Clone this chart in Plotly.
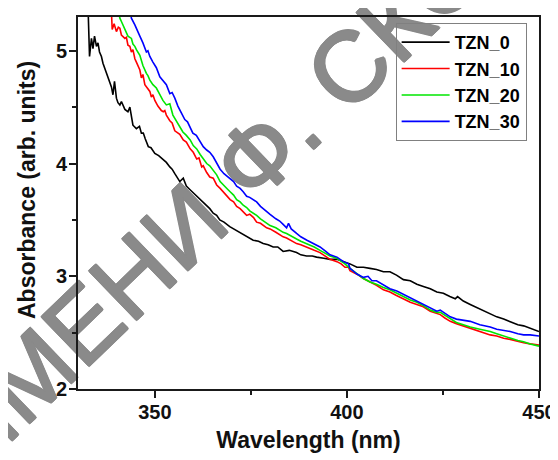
import plotly.graph_objects as go

# ---------------- data ----------------
tzn0_x = [330.0, 331.0, 332.0, 332.6, 333.0, 333.5, 333.9, 334.3, 334.8, 335.2, 335.6, 336.1, 336.5, 336.9,
          337.4, 337.8, 338.2, 338.7, 339.1, 339.5, 340.0, 340.4, 340.9, 341.3, 342.2, 343.0, 343.5, 343.9,
          344.3, 345.2, 346.0, 346.5, 347.0, 347.5, 348.3, 349.0, 350.0, 351.0, 352.2, 353.0, 353.9, 354.5,
          355.2, 356.5, 357.4, 358.2, 359.1, 360.0, 360.9, 362.0, 363.5, 364.3, 365.2, 366.1, 366.9, 368.0,
          369.5, 370.5, 372.1, 373.0, 373.9, 375.6, 377.0, 378.2, 379.5, 380.8, 382.0, 383.4, 385.0, 386.9,
          388.0, 389.5, 391.0, 392.1, 394.0, 395.6, 397.4, 399.1, 400.8, 402.6, 404.3, 406.0, 407.7, 409.5,
          411.2, 412.9, 414.7, 416.5, 418.2, 419.9, 421.7, 423.4, 425.1, 426.8, 428.2, 428.8, 430.3, 432.1,
          434.6, 437.3, 439.0, 440.8, 442.5, 444.5, 446.0, 447.7, 450.0]
tzn0_y = [5.40, 5.42, 5.38, 5.40, 4.95, 5.11, 5.02, 5.13, 5.04, 5.07, 4.99, 4.95, 4.89, 4.85,
          4.80, 4.77, 4.74, 4.68, 4.61, 4.73, 4.58, 4.54, 4.52, 4.55, 4.48, 4.46, 4.50, 4.40,
          4.34, 4.31, 4.33, 4.27, 4.27, 4.22, 4.15, 4.14, 4.09, 4.07, 4.03, 4.01, 3.97, 3.95,
          3.91, 3.84, 3.87, 3.80, 3.77, 3.74, 3.71, 3.67, 3.62, 3.60, 3.56, 3.54, 3.50, 3.48,
          3.44, 3.42, 3.39, 3.37, 3.35, 3.32, 3.31, 3.29, 3.28, 3.26, 3.26, 3.22, 3.23, 3.21,
          3.19, 3.18, 3.18, 3.17, 3.16, 3.15, 3.15, 3.13, 3.11, 3.08, 3.08, 3.07, 3.06, 3.04,
          3.04, 3.01, 2.97, 2.96, 2.93, 2.91, 2.89, 2.86, 2.85, 2.82, 2.80, 2.82, 2.78, 2.75,
          2.71, 2.67, 2.64, 2.62, 2.60, 2.57, 2.56, 2.54, 2.51]

tzn10_x = [338.7, 338.9, 339.4, 340.0, 340.5, 340.9, 341.3, 342.2, 342.6, 343.0, 343.5, 343.9, 344.3, 344.8,
           345.2, 346.1, 346.5, 346.9, 347.4, 348.2, 348.7, 349.1, 349.5, 350.0, 350.8, 351.7, 352.2, 352.6,
           353.0, 353.9, 354.5, 355.2, 355.7, 356.5, 357.4, 358.2, 359.2, 360.0, 360.9, 361.5, 362.2, 362.6,
           363.5, 364.3, 365.2, 366.1, 367.0, 368.0, 369.0, 369.6, 370.5, 371.3, 372.2, 373.0, 373.9, 374.7,
           375.7, 376.5, 377.5, 379.1, 380.0, 381.5, 383.4, 384.3, 385.5, 386.9, 388.0, 389.6, 390.4, 391.5,
           393.0, 393.8, 395.6, 397.4, 398.5, 399.5, 400.4, 400.8, 402.0, 403.0, 404.3, 406.0, 407.7, 409.5,
           411.2, 412.9, 414.7, 416.5, 418.2, 419.9, 421.7, 423.4, 424.3, 425.5, 426.9, 428.5, 430.3, 432.1,
           434.6, 437.3, 439.0, 440.8, 442.5, 444.5, 446.0, 447.7, 450.0]
tzn10_y = [5.35, 5.19, 5.24, 5.17, 5.21, 5.20, 5.14, 5.11, 5.12, 5.05, 5.04, 4.99, 5.01, 4.93,
           4.90, 4.83, 4.76, 4.79, 4.70, 4.66, 4.64, 4.59, 4.61, 4.56, 4.51, 4.47, 4.46, 4.47,
           4.43, 4.38, 4.36, 4.29, 4.28, 4.26, 4.21, 4.19, 4.13, 4.10, 4.04, 4.05, 3.97, 3.98,
           3.92, 3.88, 3.87, 3.81, 3.78, 3.74, 3.71, 3.68, 3.66, 3.62, 3.60, 3.57, 3.54, 3.55,
           3.52, 3.48, 3.47, 3.43, 3.42, 3.39, 3.35, 3.34, 3.32, 3.29, 3.28, 3.26, 3.25, 3.23,
           3.21, 3.19, 3.15, 3.13, 3.11, 3.08, 3.08, 3.05, 3.03, 3.01, 2.98, 2.95, 2.92, 2.88,
           2.86, 2.83, 2.80, 2.77, 2.75, 2.73, 2.69, 2.67, 2.66, 2.63, 2.60, 2.58, 2.56, 2.54,
           2.51, 2.48, 2.47, 2.45, 2.44, 2.42, 2.41, 2.40, 2.39]

tzn20_x = [340.5, 340.9, 341.3, 342.2, 343.0, 343.9, 344.3, 344.8, 345.2, 346.1, 346.9, 347.8, 348.2, 348.7,
           349.5, 350.4, 351.3, 352.1, 353.0, 353.9, 354.7, 355.6, 356.5, 357.3, 358.2, 359.2, 360.0, 360.9,
           361.8, 362.6, 363.5, 364.3, 365.2, 366.1, 367.0, 368.0, 369.0, 369.6, 370.5, 371.3, 372.2, 373.0,
           373.9, 374.7, 375.7, 376.5, 377.5, 379.1, 380.0, 381.5, 383.4, 384.3, 385.5, 386.9, 388.0, 389.6,
           391.5, 393.0, 394.5, 395.6, 397.4, 399.1, 400.8, 402.6, 404.3, 406.0, 407.7, 409.5, 411.2, 413.0,
           414.7, 416.5, 418.2, 419.9, 421.7, 423.4, 424.3, 426.9, 428.5, 430.3, 432.1, 434.6, 437.3, 439.0,
           440.8, 442.5, 444.5, 446.0, 447.7, 450.0]
tzn20_y = [5.35, 5.29, 5.26, 5.19, 5.13, 5.11, 5.06, 5.04, 5.01, 4.96, 4.87, 4.80, 4.78, 4.74,
           4.70, 4.67, 4.61, 4.56, 4.52, 4.53, 4.43, 4.38, 4.33, 4.28, 4.25, 4.21, 4.16, 4.13,
           4.08, 4.04, 4.00, 3.98, 3.94, 3.90, 3.84, 3.80, 3.77, 3.75, 3.72, 3.68, 3.66, 3.63,
           3.61, 3.58, 3.56, 3.54, 3.51, 3.47, 3.45, 3.43, 3.39, 3.38, 3.36, 3.33, 3.31, 3.29,
           3.26, 3.23, 3.20, 3.18, 3.16, 3.12, 3.07, 3.02, 2.98, 2.95, 2.93, 2.90, 2.88, 2.85,
           2.82, 2.79, 2.77, 2.74, 2.70, 2.68, 2.68, 2.62, 2.59, 2.57, 2.55, 2.53, 2.51, 2.49,
           2.47, 2.45, 2.43, 2.42, 2.40, 2.38]

tzn30_x = [343.6, 343.9, 344.8, 345.6, 346.1, 346.9, 347.8, 348.2, 348.7, 349.5, 350.4, 351.3, 352.1, 353.0,
           353.9, 354.5, 355.2, 356.0, 356.9, 357.8, 358.5, 359.1, 359.9, 360.8, 361.7, 362.6, 363.5, 364.3,
           365.2, 366.1, 367.0, 368.0, 369.0, 369.6, 370.5, 371.3, 372.2, 373.0, 373.9, 374.7, 375.7, 376.5,
           377.5, 379.1, 380.0, 381.5, 382.5, 383.4, 384.3, 384.8, 385.5, 386.9, 388.0, 389.6, 391.5, 393.0,
           394.5, 395.6, 397.4, 399.1, 400.4, 400.8, 402.6, 404.3, 405.5, 406.5, 407.7, 409.5, 411.2, 413.0,
           414.7, 416.5, 418.2, 419.9, 421.7, 423.4, 424.3, 426.9, 428.5, 430.3, 432.1, 434.6, 437.3, 439.0,
           440.8, 442.5, 444.5, 446.0, 447.7, 450.0]
tzn30_y = [5.35, 5.29, 5.23, 5.16, 5.13, 5.07, 4.99, 5.00, 4.95, 4.90, 4.85, 4.77, 4.74, 4.70,
           4.62, 4.63, 4.58, 4.51, 4.45, 4.39, 4.37, 4.33, 4.27, 4.25, 4.20, 4.15, 4.12, 4.10,
           4.06, 4.01, 3.95, 3.91, 3.88, 3.86, 3.84, 3.80, 3.78, 3.75, 3.71, 3.70, 3.68, 3.66,
           3.62, 3.57, 3.55, 3.51, 3.49, 3.46, 3.43, 3.47, 3.42, 3.38, 3.35, 3.32, 3.29, 3.26,
           3.22, 3.19, 3.17, 3.13, 3.11, 3.07, 3.02, 2.99, 3.00, 2.96, 2.96, 2.92, 2.89, 2.87,
           2.84, 2.81, 2.78, 2.75, 2.72, 2.69, 2.70, 2.64, 2.62, 2.61, 2.60, 2.57, 2.55, 2.53,
           2.52, 2.51, 2.49, 2.48, 2.48, 2.47]

series_names = ["TZN_0", "TZN_10", "TZN_20", "TZN_30"]
series_x = [tzn0_x, tzn10_x, tzn20_x, tzn30_x]
series_y = [tzn0_y, tzn10_y, tzn20_y, tzn30_y]
series_colors = ["#000000", "#ff0000", "#00e600", "#0000ff"]

x_ticks = [350, 400, 450]
y_ticks = [2, 3, 4, 5]
x_title = "Wavelength (nm)"
y_title = "Absorbance (arb. units)"
watermark = "ИМЕНИ Ф. СКОРИНЫ"

FONT = "Arial, 'Liberation Sans', sans-serif"
WM_COLOR = "rgb(138,138,138)"

fig = go.Figure()
for name, xs, ys, col in zip(series_names, series_x, series_y, series_colors):
    fig.add_trace(go.Scatter(x=xs, y=ys, mode="lines", name="<b>" + name + "</b>",
                             line=dict(color=col, width=1.6)))

axis_common = dict(showgrid=False, zeroline=False, showline=True, linecolor="#1a1a1a", linewidth=2,
                   mirror=True, ticks="outside", ticklen=7, tickwidth=1.5, tickcolor="#1a1a1a",
                   automargin=False,
                   tickfont=dict(family=FONT, size=20, color="#111111", weight="bold"))

fig.update_xaxes(range=[330, 450], tickvals=x_ticks, ticktext=[str(v) for v in x_ticks],
                 minor=dict(tickvals=[375, 425], ticklen=4, tickwidth=1.5, tickcolor="#1a1a1a", ticks="outside"),
                 ticklabelstandoff=-3,
                 title=dict(text=x_title, font=dict(family=FONT, size=23, color="#111111", weight="bold"),
                            standoff=10),
                 **axis_common)
fig.update_yaxes(range=[2, 5.3], tickvals=y_ticks, ticktext=[str(v) for v in y_ticks],
                 minor=dict(tickvals=[2.5, 3.5, 4.5], ticklen=4, tickwidth=1.5, tickcolor="#1a1a1a", ticks="outside"),
                 ticklabelstandoff=-2,
                 **axis_common)

# y-axis title (placed slightly above the plot centre, as in the reference)
fig.add_annotation(text=y_title, xref="paper", yref="paper", x=-0.1106, y=0.535, showarrow=False,
                   textangle=-90, xanchor="center", yanchor="middle",
                   font=dict(family=FONT, size=23, color="#111111", weight="bold"))

# diagonal watermark drawn beneath the curves (shadow thickens the strokes a little)
wm_shadow = ", ".join("%dpx %dpx 0 %s" % (dx, dy, WM_COLOR)
                      for dx, dy in [(1, 1), (-1, -1), (1, -1), (-1, 1), (1, 0), (-1, 0), (0, 1), (0, -1)])
fig.add_shape(type="rect", xref="paper", yref="paper", x0=0.493, x1=0.513, y0=0.788, y1=0.808,
              layer="below", line=dict(width=0), fillcolor="rgba(0,0,0,0)",
              label=dict(text=watermark, textangle=-44, textposition="middle center",
                         font=dict(family=FONT, size=99, color=WM_COLOR, shadow=wm_shadow)))

# page body has an 8px margin, so the figure is sized/offset to land on the 558x460 frame
fig.update_layout(
    width=550, height=452,
    margin=dict(l=70, r=19, t=9, b=71),
    paper_bgcolor="white", plot_bgcolor="rgba(0,0,0,0)",
    showlegend=True,
    legend=dict(x=0.689, y=0.984, xanchor="left", yanchor="top",
                bgcolor="rgba(255,255,255,0)", bordercolor="#808080", borderwidth=1,
                font=dict(family=FONT, size=18, color="#000000"),
                tracegroupgap=0, itemwidth=48),
)

fig.write_html("out.html")
